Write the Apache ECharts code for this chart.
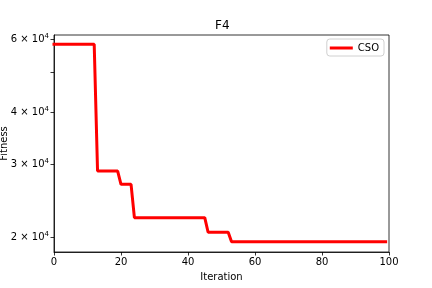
<!DOCTYPE html>
<html><head><meta charset="utf-8">
<script src="https://cdn.jsdelivr.net/npm/echarts@6/dist/echarts.min.js"></script>
<style>html,body{margin:0;padding:0;background:#fff}#c{width:432px;height:288px}</style>
</head><body><div id="c"></div>
<script>
const iterations = [0, 12, 13, 19, 20, 23, 24, 45, 46, 52, 53, 99];
const fitness = [58350, 58350, 28850, 28850, 26800, 26800, 22270, 22270, 20530, 20530, 19480, 19480];
const yLabelValues = [20000, 30000, 40000, 60000];
const yTickValues = [20000, 30000, 40000, 50000, 60000];
const yLabelMantissa = {20000: '2', 30000: '3', 40000: '4', 60000: '6'};
const xTicks = [0, 20, 40, 60, 80, 100];

const font = 'DejaVu Sans';
const chart = echarts.init(document.getElementById('c'), null, {renderer: 'canvas'});
chart.setOption({
  animation: false,
  backgroundColor: '#fff',
  title: {text: 'F4', left: 210, top: 15, textStyle: {fontFamily: font, fontSize: 12, fontWeight: 'normal', color: '#000'}},
  grid: {left: 54, right: 43, top: 35, bottom: 36, containLabel: false, outerBoundsMode: 'none',
    show: true, borderColor: '#000', borderWidth: 0.8, backgroundColor: 'transparent'},
  legend: {
    right: 48, top: 39, orient: 'vertical',
    data: [{name: 'CSO', icon: 'rect'}],
    itemWidth: 23, itemHeight: 3, itemGap: 4,
    borderColor: '#d0d0d0', borderWidth: 1, borderRadius: 3, padding: [4, 5, 3, 3],
    textStyle: {fontFamily: font, fontSize: 10, color: '#000'}
  },
  xAxis: {
    type: 'value', min: 0, max: 100, interval: 20,
    name: 'Iteration', nameLocation: 'middle', nameGap: 20,
    nameTextStyle: {fontFamily: font, fontSize: 10, color: '#000'},
    axisLine: {show: true, lineStyle: {color: '#000', width: 0.8}},
    axisTick: {show: true, length: 3.5, lineStyle: {color: '#000', width: 0.8}},
    axisLabel: {fontFamily: font, fontSize: 10, color: '#000', margin: 5,
      customValues: xTicks},
    splitLine: {show: false}
  },
  yAxis: {
    type: 'log', logBase: 10, min: 18400, max: 61450,
    name: 'Fitness', nameLocation: 'middle', nameGap: 45, nameMoveOverlap: false,
    nameTextStyle: {fontFamily: font, fontSize: 10, color: '#000'},
    axisLine: {show: true, lineStyle: {color: '#000', width: 0.8}},
    axisTick: {show: true, length: 3.5, lineStyle: {color: '#000', width: 0.8}, customValues: yTickValues},
    axisLabel: {fontFamily: font, fontSize: 10, color: '#000', margin: 5,
      customValues: yLabelValues,
      formatter: v => {
        const m = yLabelMantissa[Math.round(v)];
        return m ? m + ' \u00d7 10{sup|4}' : '';
      },
      rich: {sup: {fontFamily: font, fontSize: 7, color: '#000', verticalAlign: 'top', padding: [0, 0, 6, 0]}}
    },
    splitLine: {show: false}
  },
  series: [{
    name: 'CSO', type: 'line',
    data: iterations.map((x, i) => [x, fitness[i]]),
    showSymbol: false, symbol: 'none',
    lineStyle: {color: '#ff0000', width: 3, cap: 'square'},
    itemStyle: {color: '#ff0000'}
  }]
});
</script></body></html>
